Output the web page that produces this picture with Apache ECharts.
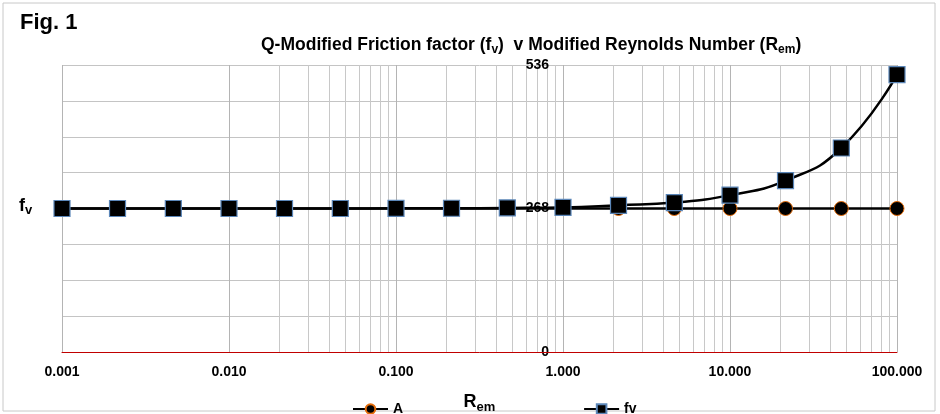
<!DOCTYPE html>
<html>
<head>
<meta charset="utf-8">
<script src="https://cdn.jsdelivr.net/npm/echarts@6/dist/echarts.min.js"></script>
<style>
  html, body { margin: 0; padding: 0; background: #fff; }
  #chart { width: 940px; height: 414px; }
</style>
</head>
<body>
<div id="chart"></div>
<script>
// Rem values (log spaced, 3 per decade)
var remVals = [0.001, 0.00215, 0.00464, 0.01, 0.0215, 0.0464, 0.1, 0.215, 0.464, 1, 2.15, 4.64, 10, 21.5, 46.4, 100];
var aVals = [268, 268, 268, 268, 268, 268, 268, 268, 268, 268, 268, 268, 268, 268, 268, 268];
var fvVals = [268, 268, 268, 268, 268, 268, 268.3, 268.5, 269, 270, 274, 279, 293, 320, 381, 518];
var yLabels = [0, 268, 536];
var minorX = [];
[0.001, 0.01, 0.1, 1, 10].forEach(function (d) {
    for (var k = 2; k <= 9; k++) minorX.push(+(d * k).toPrecision(3));
});

var font = "'Liberation Sans', Arial, sans-serif";

function pairs(xs, ys) {
    return xs.map(function (x, i) { return [x, ys[i]]; });
}

var chart = echarts.init(document.getElementById('chart'));
var option = {
    animation: false,
    textStyle: { fontFamily: font },
    title: {
        text: '{b|Q-Modified Friction factor (f}{s|v}{b|)  v Modified Reynolds Number (R}{s|em}{b|)}',
        left: 256,
        top: 28,
        textStyle: {
            rich: {
                b: { fontSize: 17.5, fontWeight: 'bold', color: '#000', fontFamily: font, lineHeight: 24 },
                s: { fontSize: 12, fontWeight: 'bold', color: '#000', fontFamily: font, lineHeight: 24, padding: [10, 0, 0, 0] }
            }
        }
    },
    legend: {
        left: 347,
        top: 397,
        itemGap: 180,
        itemWidth: 35,
        itemHeight: 12,
        textStyle: { fontSize: 14, fontWeight: 'bold', color: '#000' },
        data: ['A', 'fv']
    },
    grid: { left: 62, right: 43, top: 65, bottom: 62, containLabel: false, outerBoundsMode: 'none' },
    xAxis: {
        type: 'log',
        logBase: 10,
        min: 0.001,
        max: 100,
        z: 1,
        name: '{r|R}{s|em}',
        nameLocation: 'middle',
        nameGap: 38,
        nameTextStyle: {
            rich: {
                r: { fontSize: 18, fontWeight: 'bold', color: '#000', fontFamily: font, lineHeight: 24 },
                s: { fontSize: 13, fontWeight: 'bold', color: '#000', fontFamily: font, lineHeight: 24, padding: [10, 0, 0, 0] }
            }
        },
        axisLine: { show: true, lineStyle: { color: '#c00000', width: 1 } },
        axisTick: { show: false },
        axisLabel: {
            margin: 13,
            fontSize: 14,
            fontWeight: 'bold',
            color: '#000',
            formatter: function (v) { return (+v).toFixed(3); }
        },
        splitLine: { show: true, lineStyle: { color: '#b4b4b4', width: 1 } }
    },
    yAxis: {
        type: 'value',
        min: 0,
        max: 536,
        interval: 67,
        position: 'left',
        z: 0,
        axisLine: { show: false },
        axisTick: { show: false },
        axisLabel: {
            margin: 14,
            fontSize: 14,
            fontWeight: 'bold',
            color: '#000',
            formatter: function (v) { return yLabels.indexOf(v) >= 0 ? String(v) : ''; }
        },
        splitLine: { show: true, lineStyle: { color: '#c4c4c4', width: 1 } }
    },
    graphic: [
        {
            type: 'rect',
            z: -1,
            shape: { x: 3, y: 3, width: 932, height: 408 },
            style: { fill: 'none', stroke: '#c8c8c8', lineWidth: 1 },
            silent: true
        },
        {
            type: 'text',
            left: 20,
            top: 12,
            style: { text: 'Fig. 1', font: 'bold 22px ' + font, fill: '#000' }
        },
        {
            type: 'text',
            left: 19,
            top: 195,
            style: {
                text: '{f|f}{s|v}',
                rich: {
                    f: { fontSize: 18, fontWeight: 'bold', fill: '#000', fontFamily: font, lineHeight: 22 },
                    s: { fontSize: 13, fontWeight: 'bold', fill: '#000', fontFamily: font, lineHeight: 22, padding: [9, 0, 0, 0] }
                }
            }
        }
    ],
    series: [
        {
            name: 'grid-minor',
            type: 'line',
            data: [],
            silent: true,
            z: 0,
            markLine: {
                z: 0,
                silent: true,
                symbol: 'none',
                animation: false,
                label: { show: false },
                lineStyle: { color: '#c8c8c8', type: 'solid', width: 1 },
                data: minorX.map(function (v) { return { xAxis: v }; })
            }
        },
        {
            name: 'A',
            type: 'line',
            smooth: true,
            z: 3,
            data: pairs(remVals, aVals),
            symbol: 'circle',
            symbolSize: 14,
            lineStyle: { color: '#000', width: 2.5 },
            itemStyle: { color: '#000', borderColor: '#e46c0a', borderWidth: 1 }
        },
        {
            name: 'fv',
            type: 'line',
            smooth: true,
            z: 4,
            data: pairs(remVals, fvVals),
            symbol: 'rect',
            symbolSize: 16,
            lineStyle: { color: '#000', width: 2.5 },
            itemStyle: { color: '#000', borderColor: '#5b86b8', borderWidth: 1.2 }
        }
    ]
};
chart.setOption(option);

// put the value axis where Rem = 1, as in the original
var px = chart.convertToPixel({ xAxisIndex: 0 }, 1);
chart.setOption({ yAxis: { offset: -(px - 62) } });
</script>
</body>
</html>
